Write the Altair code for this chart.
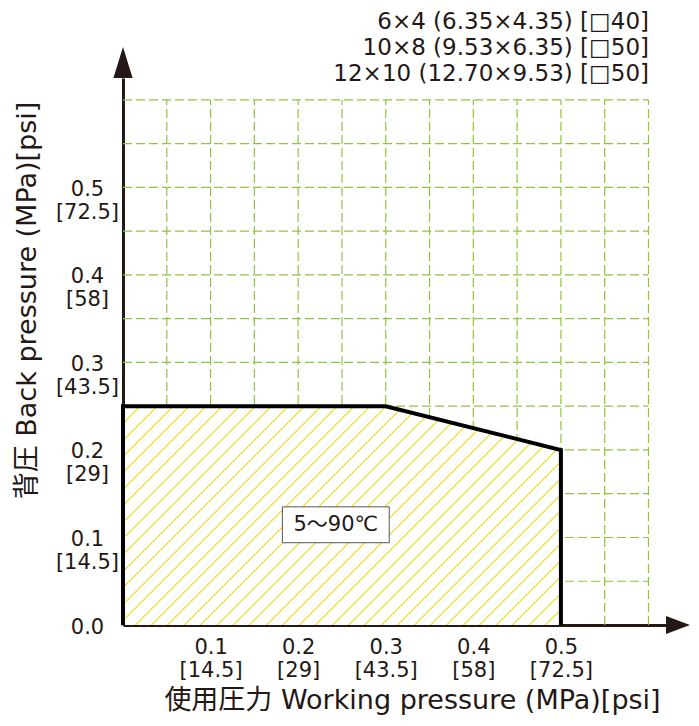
import altair as alt
import pandas as pd

# ---------------- data ----------------
x_ticks = [0.1, 0.2, 0.3, 0.4, 0.5]
x_psi = ["14.5", "29", "43.5", "58", "72.5"]
y_ticks = [0.0, 0.1, 0.2, 0.3, 0.4, 0.5]
y_psi = ["", "14.5", "29", "43.5", "58", "72.5"]
grid_vals = [0.05, 0.1, 0.15, 0.2, 0.25, 0.3, 0.35, 0.4, 0.45, 0.5, 0.55, 0.6]
grid_max = 0.6
area_x = [0.0, 0.3, 0.5]
area_y = [0.25, 0.25, 0.2]
outline_x = [0.0, 0.0, 0.3, 0.5, 0.5]
outline_y = [0.0, 0.25, 0.25, 0.2, 0.0]
legend_lines = ["6×4 (6.35×4.35) [□40]",
                "10×8 (9.53×6.35) [□50]",
                "12×10 (12.70×9.53) [□50]"]
temp_label = "5～90℃"
temp_box_x = [0.182, 0.304]
temp_box_y = [0.094, 0.135]
x_axis_max = 0.62
y_axis_max = 0.625

# ---------------- style ----------------
FONT = "DejaVu Sans, Noto Sans CJK JP"
INK = "#231815"
GREEN = "#8cc63f"
YELLOW = "#f3e24a"
W = 543
H = 547

def label_expr(ticks, psi):
    expr = "''"
    for t, p in reversed(list(zip(ticks, psi))):
        second = "[" + p + "]" if p else ""
        expr = f"abs(datum.value-{t})<0.000001 ? ['{t:.1f}','{second}'] : " + expr
    return expr

xscale = alt.Scale(domain=[0, x_axis_max], nice=False, zero=False)
yscale = alt.Scale(domain=[0, y_axis_max], nice=False, zero=False)

X_axis = alt.Axis(
    values=x_ticks, labelExpr=label_expr(x_ticks, x_psi), grid=False, ticks=False,
    domainColor=INK, domainWidth=3, labelFont=FONT, labelFontSize=21,
    labelColor=INK, labelLineHeight=23, labelPadding=11, labelBaseline="top",
    title="使用圧力 Working pressure (MPa)[psi]", titleFont=FONT, titleFontSize=27,
    titleFontWeight="normal", titleColor=INK, titleX=289, titleY=75,
    titleBaseline="middle", titleAlign="center")
Y_axis = alt.Axis(
    values=y_ticks, labelExpr=label_expr(y_ticks, y_psi), grid=False, ticks=False,
    domainColor=INK, domainWidth=3, labelFont=FONT, labelFontSize=21,
    labelColor=INK, labelLineHeight=23, labelPadding=36, labelAlign="center",
    labelBaseline="top", labelOffset=-9,
    title="背圧 Back pressure (MPa)[psi]", titleFont=FONT, titleFontSize=27,
    titleFontWeight="normal", titleColor=INK, titleX=-96, titleY=222,
    titleBaseline="middle", titleAlign="center", titleAngle=-90)

def xq(f):
    return alt.X(f, scale=xscale, axis=X_axis)

def yq(f):
    return alt.Y(f, scale=yscale, axis=Y_axis)

# grid rules
vgrid = pd.DataFrame({"x": grid_vals, "y": [0.0] * len(grid_vals), "y2": [grid_max] * len(grid_vals)})
hgrid = pd.DataFrame({"y": grid_vals, "x": [0.0] * len(grid_vals), "x2": [grid_max] * len(grid_vals)})

vlines = alt.Chart(vgrid).mark_rule(color=GREEN, strokeDash=[9, 4], strokeWidth=1.2).encode(
    x=xq("x:Q"), y=yq("y:Q"), y2="y2:Q")
hlines = alt.Chart(hgrid).mark_rule(color=GREEN, strokeDash=[9, 4], strokeWidth=1.2).encode(
    y=yq("y:Q"), x=xq("x:Q"), x2="x2:Q")

# hatched area (gradient stripes emulate hatching)
bw = (max(area_x) - min(area_x)) / x_axis_max * W
bh = max(area_y) / y_axis_max * H
k = (bw + bh) / (bw * bw + bh * bh)
period = 16.5
n = int(round((bw + bh) / period))
frac = 0.12
stops = []
for i in range(n):
    a = i / n
    b = (i + frac) / n
    c = (i + 1) / n
    stops += [alt.GradientStop(offset=a, color=YELLOW), alt.GradientStop(offset=b, color=YELLOW),
              alt.GradientStop(offset=b, color="white"), alt.GradientStop(offset=c, color="white")]
hatch = alt.Gradient(gradient="linear", stops=stops, x1=0, y1=0, x2=bw * k, y2=bh * k)

area_df = pd.DataFrame({"x": area_x, "y": area_y, "y0": [0.0] * len(area_x)})
area = alt.Chart(area_df).mark_area(fill=hatch, interpolate="linear").encode(
    x=xq("x:Q"), y=yq("y:Q"), y2="y0:Q")

out_df = pd.DataFrame({"x": outline_x, "y": outline_y, "o": list(range(len(outline_x)))})
outline = alt.Chart(out_df).mark_line(color="black", strokeWidth=4, strokeJoin="miter").encode(
    x=xq("x:Q"), y=yq("y:Q"), order="o:O")

box_df = pd.DataFrame({"x": [temp_box_x[0]], "x2": [temp_box_x[1]],
                       "y": [temp_box_y[0]], "y2": [temp_box_y[1]],
                       "xc": [sum(temp_box_x) / 2], "yc": [sum(temp_box_y) / 2],
                       "t": [temp_label]})
box = alt.Chart(box_df).mark_rect(fill="white", stroke="#555555", strokeWidth=1).encode(
    x=xq("x:Q"), x2="x2:Q", y=yq("y:Q"), y2="y2:Q")
box_text = alt.Chart(box_df).mark_text(font=FONT, fontSize=21, color=INK, baseline="middle").encode(
    x=xq("xc:Q"), y=yq("yc:Q"), text="t:N")

# arrowheads at the ends of the axes
up_df = pd.DataFrame({"x": [0.0], "y": [y_axis_max]})
right_df = pd.DataFrame({"x": [x_axis_max], "y": [0.0]})
arrow_up = alt.Chart(up_df).mark_point(
    shape="M0,-1L0.31,0L-0.31,0Z", size=3844, filled=True, color=INK, opacity=1, strokeWidth=0).encode(
    x=xq("x:Q"), y=yq("y:Q"))
arrow_right = alt.Chart(right_df).mark_point(
    shape="M1,0L0,-0.375L0,0.375Z", size=2304, filled=True, color=INK, opacity=1, strokeWidth=0).encode(
    x=xq("x:Q"), y=yq("y:Q"))

chart = alt.layer(vlines, hlines, area, outline, box, box_text, arrow_up, arrow_right).properties(
    width=W, height=H,
    background="white",
    title=alt.TitleParams(text=legend_lines, anchor="end", frame="group", font=FONT,
                          fontSize=23, fontWeight="normal", color=INK, lineHeight=26,
                          baseline="bottom", offset=0, dx=-17, dy=62),
    autosize=alt.AutoSizeParams(type="none"),
    padding={"left": 115, "top": 70, "right": 25, "bottom": 91},
).configure_view(stroke=None)

chart.save("out.html", embed_options={"renderer": "svg", "actions": False})
